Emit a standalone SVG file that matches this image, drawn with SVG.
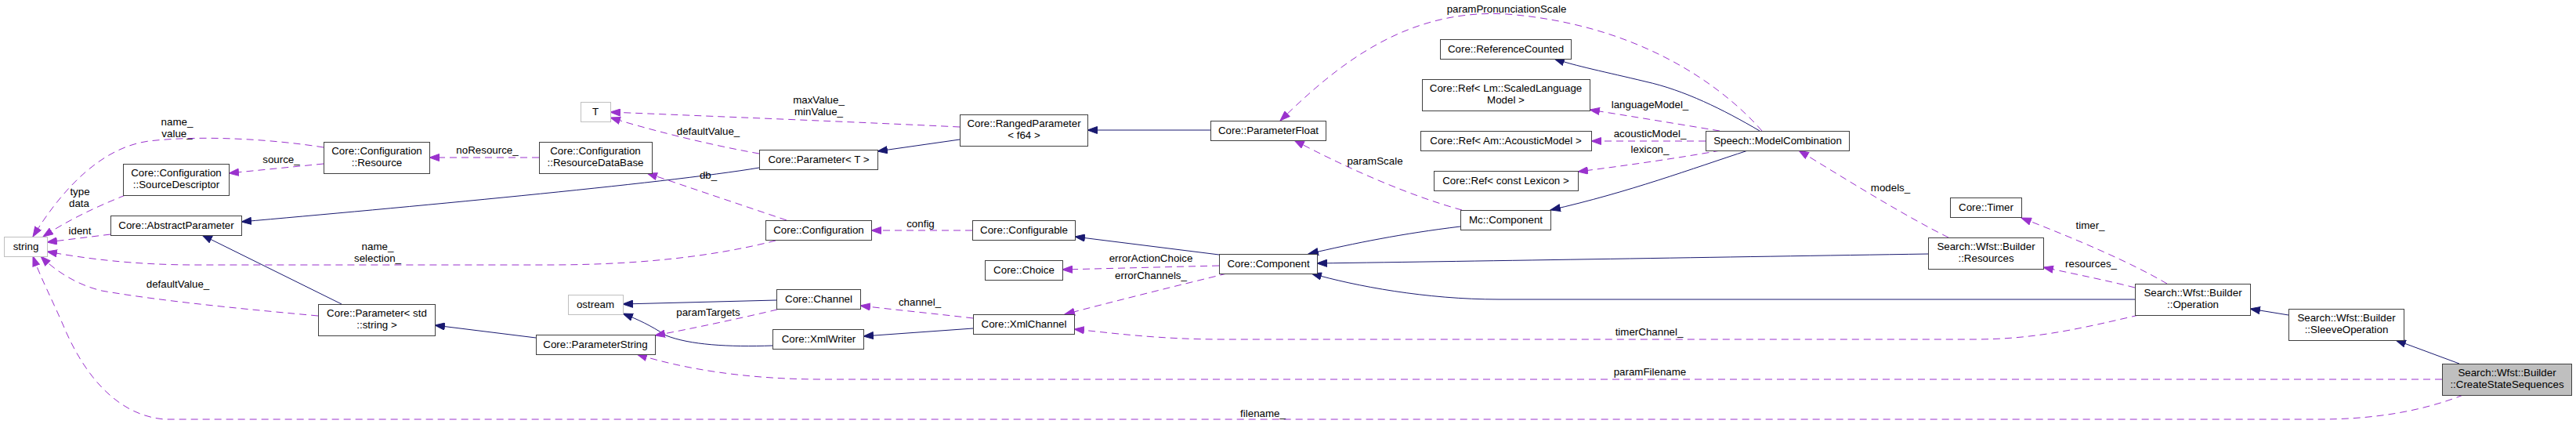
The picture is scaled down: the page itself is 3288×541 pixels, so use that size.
<svg xmlns="http://www.w3.org/2000/svg" width="3288" height="541" viewBox="0 0 3288 541">
<style>
.n rect{fill:#fff;stroke:#404040;stroke-width:1}
.g rect{stroke:#bfbfbf}
.f rect{fill:#bfbfbf}
text{font-family:"Liberation Sans",Arial,Helvetica,sans-serif;font-size:13.33px;fill:#000;text-anchor:middle}
.inh{fill:none;stroke:#191970;stroke-width:1;marker-end:url(#ai)}
.use{fill:none;stroke:#9a32cd;stroke-width:1;stroke-dasharray:9,6;marker-end:url(#au)}
</style>
<defs>
<marker id="ai" viewBox="0 0 14 10" markerWidth="14" markerHeight="10" refX="13" refY="5" orient="auto" markerUnits="userSpaceOnUse"><path d="M0.5,0.5 L13,5 L0.5,9.5 z" fill="#191970" stroke="#191970"/></marker>
<marker id="au" viewBox="0 0 14 10" markerWidth="14" markerHeight="10" refX="13" refY="5" orient="auto" markerUnits="userSpaceOnUse"><path d="M0.5,0.5 L13,5 L0.5,9.5 z" fill="#9a32cd" stroke="#9a32cd"/></marker>
</defs>
<rect width="3288" height="541" fill="#fff"/>
<g id="edges">
<path class="use" d="M413,188 C350,178 260,172 190,180 C130,188 80,240 42,302"/>
<path class="use" d="M413,209 L292,221"/>
<path class="use" d="M160,249 C120,265 85,282 55,302"/>
<path class="use" d="M141,299 L60,309"/>
<path class="use" d="M990,307 C900,330 800,338 700,338 L250,338 C170,338 110,330 60,321"/>
<path class="use" d="M406,403 C330,396 210,385 130,371 C100,364 72,347 52,327"/>
<path class="use" d="M3144,504 C3090,525 3030,535 2960,535 L210,535 C150,530 110,480 85,425 C68,385 52,355 42,327"/>
<path class="inh" d="M969,214 C850,234 500,266 308,283"/>
<path class="inh" d="M436,388 L258,300"/>
<path class="inh" d="M684,431 L555,415"/>
<path class="use" d="M1225,162 C1100,156 900,148 779,143"/>
<path class="use" d="M969,196 C900,184 820,163 779,150"/>
<path class="inh" d="M1225,178 L1120,193"/>
<path class="inh" d="M1545,166 L1388,166"/>
<path class="use" d="M2249,167 C2190,100 2080,30 1923,18 C1790,10 1700,90 1634,154"/>
<path class="inh" d="M2246,167 C2200,140 2150,115 2100,104 C2050,92 2010,84 1984,75"/>
<path class="use" d="M2195,167 C2140,158 2080,148 2029,140"/>
<path class="use" d="M2177,180 L2031,180"/>
<path class="use" d="M2196,192 C2140,202 2070,212 2014,219"/>
<path class="inh" d="M2231,192 C2160,215 2080,245 1979,268"/>
<path class="use" d="M1866,268 C1800,250 1720,215 1652,179"/>
<path class="inh" d="M1864,289 C1790,298 1730,310 1670,324"/>
<path class="inh" d="M2461,324 C2200,328 1900,333 1681,336"/>
<path class="inh" d="M2725,382 L1913,382 C1820,382 1730,365 1674,349"/>
<path class="inh" d="M1556,325 L1372,302"/>
<path class="use" d="M1556,339 L1356,344"/>
<path class="use" d="M1566,349 C1500,365 1420,385 1359,401"/>
<path class="use" d="M1241,294 L1112,294"/>
<path class="use" d="M1004,281 L826,221"/>
<path class="use" d="M688,201 L548,201"/>
<path class="inh" d="M991,383 L795,388"/>
<path class="inh" d="M986,441 C930,443 880,440 850,428 C830,415 815,408 795,400"/>
<path class="use" d="M992,395 C950,405 880,420 836,428"/>
<path class="use" d="M1242,406 C1200,401 1140,395 1098,390"/>
<path class="inh" d="M1242,419 L1102,429"/>
<path class="use" d="M2730,402 C2660,418 2600,433 2520,433 L1560,433 C1480,433 1420,425 1371,420"/>
<path class="use" d="M3117,484 L1050,484 C950,484 870,470 813,452"/>
<path class="use" d="M2766,362 C2720,335 2650,305 2580,278"/>
<path class="use" d="M2725,367 C2690,358 2650,350 2608,341"/>
<path class="use" d="M2487,303 C2430,275 2350,225 2296,192"/>
<path class="inh" d="M2921,402 L2872,394"/>
<path class="inh" d="M3139,464 L3058,434"/>
<text x="226" y="160">name_</text><text x="226" y="175">value_</text>
<text x="359" y="208">source_</text>
<text x="102" y="249">type</text><text x="101" y="264">data</text>
<text x="102" y="299">ident</text>
<text x="482" y="319">name_</text><text x="482" y="334">selection_</text>
<text x="227" y="367">defaultValue_</text>
<text x="1612" y="532">filename_</text>
<text x="622" y="196">noResource_</text>
<text x="1045" y="132">maxValue_</text><text x="1045" y="147">minValue_</text>
<text x="904" y="172">defaultValue_</text>
<text x="904" y="228">db_</text>
<text x="904" y="403">paramTargets</text>
<text x="1175" y="290">config</text>
<text x="1469" y="334">errorActionChoice</text>
<text x="1469" y="356">errorChannels_</text>
<text x="1174" y="390">channel_</text>
<text x="1923" y="16">paramPronunciationScale</text>
<text x="2106" y="138">languageModel_</text>
<text x="2106" y="175">acousticModel_</text>
<text x="2106" y="195">lexicon_</text>
<text x="1755" y="210">paramScale</text>
<text x="2105" y="428">timerChannel_</text>
<text x="2106" y="479">paramFilename</text>
<text x="2413" y="244">models_</text>
<text x="2668" y="292">timer_</text>
<text x="2669" y="341">resources_</text>
</g>
<g id="n_string" class="n g"><rect x="5.5" y="302.5" width="55" height="25"/><text x="33" y="319">string</text></g>
<g id="n_sourcedescriptor" class="n"><rect x="157.5" y="209.5" width="135" height="40"/><text x="225" y="225">Core::Configuration</text><text x="225" y="240">::SourceDescriptor</text></g>
<g id="n_abstractparameter" class="n"><rect x="141.5" y="275.5" width="167" height="25"/><text x="225" y="292">Core::AbstractParameter</text></g>
<g id="n_resource" class="n"><rect x="413.5" y="181.5" width="135" height="40"/><text x="481" y="197">Core::Configuration</text><text x="481" y="212">::Resource</text></g>
<g id="n_param_string" class="n"><rect x="406.5" y="388.5" width="149" height="40"/><text x="481" y="404">Core::Parameter&lt; std</text><text x="481" y="419">::string &gt;</text></g>
<g id="n_T" class="n g"><rect x="741.5" y="130.5" width="38" height="25"/><text x="760" y="147">T</text></g>
<g id="n_resourcedatabase" class="n"><rect x="688.5" y="181.5" width="144" height="40"/><text x="760" y="197">Core::Configuration</text><text x="760" y="212">::ResourceDataBase</text></g>
<g id="n_ostream" class="n g"><rect x="725.5" y="376.5" width="70" height="25"/><text x="760" y="393">ostream</text></g>
<g id="n_parameterstring" class="n"><rect x="684.5" y="427.5" width="152" height="25"/><text x="760" y="444">Core::ParameterString</text></g>
<g id="n_param_T" class="n"><rect x="969.5" y="191.5" width="151" height="25"/><text x="1045" y="208">Core::Parameter&lt; T &gt;</text></g>
<g id="n_configuration" class="n"><rect x="977.5" y="281.5" width="135" height="25"/><text x="1045" y="298">Core::Configuration</text></g>
<g id="n_channel" class="n"><rect x="991.5" y="369.5" width="107" height="25"/><text x="1045" y="386">Core::Channel</text></g>
<g id="n_xmlwriter" class="n"><rect x="986.5" y="420.5" width="116" height="25"/><text x="1045" y="437">Core::XmlWriter</text></g>
<g id="n_rangedparameter" class="n"><rect x="1225.5" y="146.5" width="163" height="40"/><text x="1307" y="162">Core::RangedParameter</text><text x="1307" y="177">&lt; f64 &gt;</text></g>
<g id="n_configurable" class="n"><rect x="1241.5" y="281.5" width="131" height="25"/><text x="1307" y="298">Core::Configurable</text></g>
<g id="n_choice" class="n"><rect x="1257.5" y="332.5" width="99" height="25"/><text x="1307" y="349">Core::Choice</text></g>
<g id="n_xmlchannel" class="n"><rect x="1242.5" y="401.5" width="129" height="25"/><text x="1307" y="418">Core::XmlChannel</text></g>
<g id="n_parameterfloat" class="n"><rect x="1545.5" y="154.5" width="147" height="25"/><text x="1619" y="171">Core::ParameterFloat</text></g>
<g id="n_component" class="n"><rect x="1556.5" y="324.5" width="125" height="25"/><text x="1619" y="341">Core::Component</text></g>
<g id="n_referencecounted" class="n"><rect x="1838.5" y="50.5" width="167" height="25"/><text x="1922" y="67">Core::ReferenceCounted</text></g>
<g id="n_ref_lm" class="n"><rect x="1815.5" y="101.5" width="214" height="40"/><text x="1922" y="117">Core::Ref&lt; Lm::ScaledLanguage</text><text x="1922" y="132">Model &gt;</text></g>
<g id="n_ref_am" class="n"><rect x="1813.5" y="167.5" width="218" height="25"/><text x="1922" y="184">Core::Ref&lt; Am::AcousticModel &gt;</text></g>
<g id="n_ref_lexicon" class="n"><rect x="1830.5" y="218.5" width="184" height="25"/><text x="1922" y="235">Core::Ref&lt; const Lexicon &gt;</text></g>
<g id="n_mc_component" class="n"><rect x="1864.5" y="268.5" width="115" height="25"/><text x="1922" y="285">Mc::Component</text></g>
<g id="n_modelcombination" class="n"><rect x="2177.5" y="167.5" width="183" height="25"/><text x="2269" y="184">Speech::ModelCombination</text></g>
<g id="n_timer" class="n"><rect x="2489.5" y="252.5" width="91" height="25"/><text x="2535" y="269">Core::Timer</text></g>
<g id="n_resources" class="n"><rect x="2461.5" y="303.5" width="147" height="40"/><text x="2535" y="319">Search::Wfst::Builder</text><text x="2535" y="334">::Resources</text></g>
<g id="n_operation" class="n"><rect x="2725.5" y="362.5" width="147" height="40"/><text x="2799" y="378">Search::Wfst::Builder</text><text x="2799" y="393">::Operation</text></g>
<g id="n_sleeveoperation" class="n"><rect x="2921.5" y="394.5" width="147" height="40"/><text x="2995" y="410">Search::Wfst::Builder</text><text x="2995" y="425">::SleeveOperation</text></g>
<g id="n_createstatesequences" class="n f"><rect x="3117.5" y="464.5" width="165" height="40"/><text x="3200" y="480">Search::Wfst::Builder</text><text x="3200" y="495">::CreateStateSequences</text></g>
</svg>
